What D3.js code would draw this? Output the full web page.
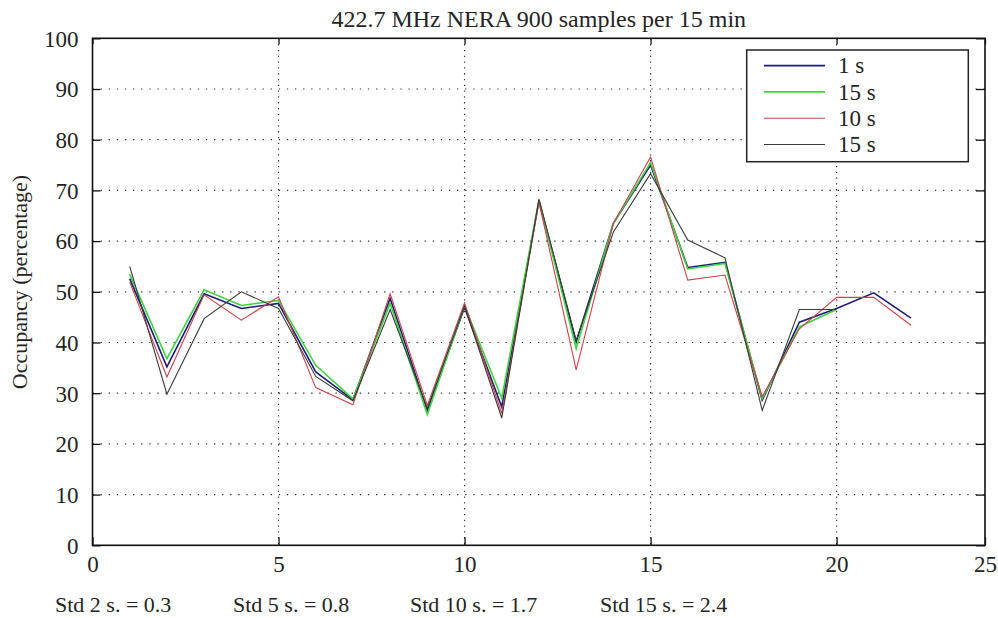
<!DOCTYPE html>
<html>
<head>
<meta charset="utf-8">
<script src="https://cdn.jsdelivr.net/npm/d3@7"></script>
<style>
  html, body { margin: 0; padding: 0; background: #fff; }
  svg text { font-family: "Liberation Serif", "Times New Roman", serif; fill: #242424; }
</style>
</head>
<body>
<div id="chart"></div>
<script>
// time step index (x axis)
const steps = [1, 2, 3, 4, 5, 6, 7, 8, 9, 10, 11, 12, 13, 14, 15, 16, 17, 18, 19, 20, 21, 22];

// occupancy (%)
const occ1s = [52.6, 35.2, 49.6, 46.7, 47.7, 34.2, 28.7, 48.7, 26.6, 46.9, 27.3, 68.0, 40.1, 63.5, 75.0, 54.8, 55.8, 28.6, 44.0, 46.7, 49.8, 44.8];
const occ15sA = [53.5, 36.8, 50.4, 47.3, 48.3, 35.5, 28.9, 47.7, 25.8, 47.3, 29.0, 68.0, 38.8, 63.5, 75.5, 54.5, 55.6, 28.9, 43.1, 46.5];
const occ10s = [51.9, 33.2, 49.4, 44.4, 49.0, 31.1, 27.7, 49.6, 27.6, 47.8, 26.0, 67.7, 34.6, 63.5, 76.6, 52.3, 53.3, 29.3, 42.7, 48.9, 48.9, 43.4];
const occ15sB = [55.0, 29.8, 44.7, 50.0, 46.7, 33.3, 28.5, 46.5, 27.0, 47.2, 25.1, 68.3, 40.4, 61.8, 73.3, 60.2, 56.7, 26.6, 46.5, 46.5];

const seriesLabels = ["1 s", "15 s", "10 s", "15 s"];
const seriesColors = ["#1c1c78", "#3ed43e", "#d0404a", "#3a3a3a"];
const seriesWidths = [1.6, 1.6, 1.1, 1.1];

const xTicks = [0, 5, 10, 15, 20, 25];
const yTicks = [0, 10, 20, 30, 40, 50, 60, 70, 80, 90, 100];

const stdNotes = ["Std 2 s. = 0.3", "Std 5 s. = 0.8", "Std 10 s. = 1.7", "Std 15 s. = 2.4"];

const title = "422.7 MHz NERA 900 samples per 15 min";
const yLabel = "Occupancy (percentage)";

const width = 998;
const height = 618;
const plot = { left: 92.5, right: 985, top: 38.3, bottom: 545.3 };
const notePos = [55, 233, 410, 600];

const svg = d3.select("#chart")
  .append("svg")
  .attr("width", width)
  .attr("height", height);

// x axis of the source figure is cropped on the right (25 sits at the frame edge)
const x = d3.scaleLinear()
  .domain([0, 22, 25])
  .range([plot.left, 911, plot.right]);

const y = d3.scaleLinear()
  .domain([0, 100])
  .range([plot.bottom, plot.top]);

// grid
const grid = svg.append("g").attr("class", "grid");

grid.selectAll(".hgrid")
  .data(yTicks.filter(d => d > 0 && d < 100))
  .enter()
  .append("line")
  .attr("x1", plot.left)
  .attr("x2", plot.right)
  .attr("y1", d => y(d))
  .attr("y2", d => y(d))
  .attr("stroke", "#333")
  .attr("stroke-width", 1.2)
  .attr("stroke-dasharray", "1.3,6.8");

grid.selectAll(".vgrid")
  .data(xTicks.filter(d => d > 0 && d < 25))
  .enter()
  .append("line")
  .attr("x1", d => x(d))
  .attr("x2", d => x(d))
  .attr("y1", plot.top)
  .attr("y2", plot.bottom)
  .attr("stroke", "#333")
  .attr("stroke-width", 1.2)
  .attr("stroke-dasharray", "1.3,4.5");

// axes, ticks pointing inward like matlab
const axisFont = "23px";

const gx = svg.append("g")
  .attr("transform", `translate(0,${plot.bottom})`)
  .call(d3.axisBottom(x).tickValues(xTicks).tickSizeInner(-8).tickSizeOuter(0).tickPadding(10).tickFormat(d3.format("d")));
gx.selectAll("text").style("font-size", axisFont);

const gy = svg.append("g")
  .attr("transform", `translate(${plot.left},0)`)
  .call(d3.axisLeft(y).tickValues(yTicks).tickSizeInner(-8).tickSizeOuter(0).tickPadding(14));
gy.selectAll("text").style("font-size", axisFont).attr("dy", "0.34em");

svg.append("g")
  .attr("transform", `translate(0,${plot.top})`)
  .call(d3.axisTop(x).tickValues(xTicks).tickSizeInner(-6).tickSizeOuter(0).tickFormat(""));

svg.append("g")
  .attr("transform", `translate(${plot.right},0)`)
  .call(d3.axisRight(y).tickValues(yTicks).tickSizeInner(-9).tickSizeOuter(0).tickFormat(""));

svg.selectAll(".domain").remove();
svg.selectAll(".tick line").attr("stroke", "#111").attr("stroke-width", 1.3);

// frame
svg.append("rect")
  .attr("x", plot.left)
  .attr("y", plot.top)
  .attr("width", plot.right - plot.left)
  .attr("height", plot.bottom - plot.top)
  .attr("fill", "none")
  .attr("stroke", "#111")
  .attr("stroke-width", 1.6);

// lines
const allSeries = [occ1s, occ15sA, occ10s, occ15sB];

const line = d3.line()
  .x((d, i) => x(steps[i]))
  .y(d => y(d));

svg.append("g")
  .selectAll("path")
  .data(allSeries)
  .enter()
  .append("path")
  .attr("d", d => line(d))
  .attr("fill", "none")
  .attr("stroke", (d, i) => seriesColors[i])
  .attr("stroke-width", (d, i) => seriesWidths[i])
  .attr("stroke-linejoin", "miter");

// title
svg.append("text")
  .attr("x", (plot.left + plot.right) / 2)
  .attr("y", 27)
  .attr("text-anchor", "middle")
  .style("font-size", "24px")
  .text(title);

// y label
svg.append("text")
  .attr("transform", "rotate(-90)")
  .attr("x", -282)
  .attr("y", 27)
  .attr("text-anchor", "middle")
  .style("font-size", "22px")
  .text(yLabel);

// legend
const legend = svg.append("g");
legend.append("rect")
  .attr("x", 746.7)
  .attr("y", 50)
  .attr("width", 221.6)
  .attr("height", 111.7)
  .attr("fill", "#fff")
  .attr("stroke", "#222")
  .attr("stroke-width", 1.5);

const rows = legend.selectAll(".row")
  .data(seriesLabels)
  .enter()
  .append("g")
  .attr("transform", (d, i) => `translate(0,${65.6 + i * 26.3})`);

rows.append("line")
  .attr("x1", 764)
  .attr("x2", 825)
  .attr("stroke", (d, i) => seriesColors[i])
  .attr("stroke-width", (d, i) => seriesWidths[i]);

rows.append("text")
  .attr("x", 838)
  .attr("dy", "0.34em")
  .style("font-size", "23px")
  .text(d => d);

// std notes under the axis
svg.selectAll(".note")
  .data(stdNotes)
  .enter()
  .append("text")
  .attr("x", (d, i) => notePos[i])
  .attr("y", 612)
  .style("font-size", "22px")
  .text(d => d);
</script>
</body>
</html>
